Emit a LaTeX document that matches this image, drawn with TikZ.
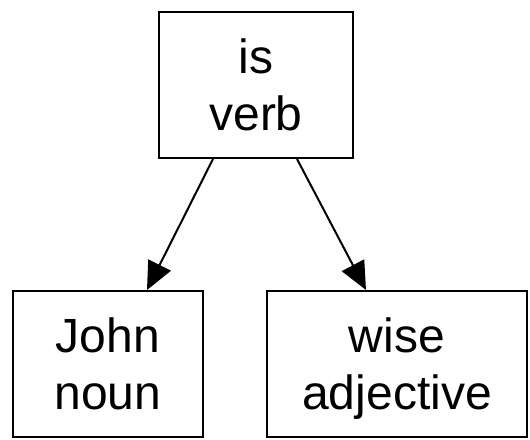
\documentclass[tikz,border=0pt]{standalone}
\usepackage{fontspec}
\setmainfont{Liberation Sans}
\usetikzlibrary{arrows.meta}

\begin{document}
\begin{tikzpicture}[x=1pt,y=1pt,
    word/.style={draw=black, line width=1pt, align=center, inner sep=0pt,
        font=\fontsize{24}{28.5}\selectfont, minimum height=73pt},
    link/.style={line width=1pt, -{Triangle[length=14pt,width=12.5pt]}}]
\useasboundingbox (0,0) rectangle (265,219.5);
\node[word, minimum width=97pt] (is) at (128,177) {is\\verb};
\node[word, minimum width=95pt] (john) at (54,37.5) {John\\noun};
\node[word, minimum width=130pt] (wise) at (198.5,37.5) {wise\\\smash{adjective}};
\draw[link] ([xshift=-21.5pt]is.south) -- ([xshift=19.5pt]john.north);
\draw[link] ([xshift=20.5pt]is.south) -- ([xshift=-15.5pt]wise.north);
\end{tikzpicture}
\end{document}
